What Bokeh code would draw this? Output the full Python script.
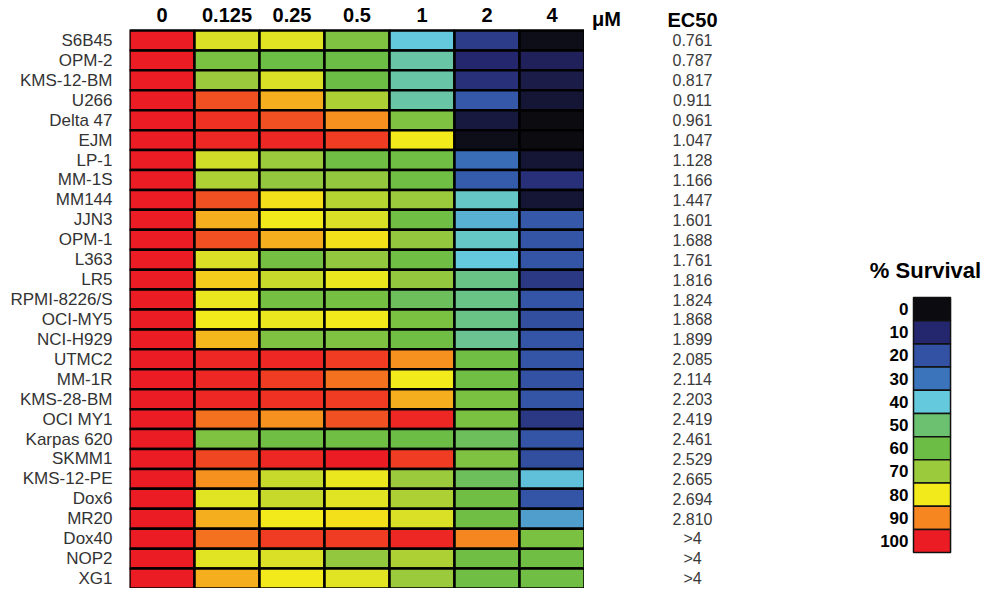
from bokeh.plotting import figure
from bokeh.models import Range1d, ColumnDataSource, LinearColorMapper, FixedTicker, FactorRange
from bokeh.layouts import row
from bokeh.embed import file_html
from bokeh.resources import INLINE
from bokeh.core.properties import value

# ---------------- data ----------------
doses = ["0", "0.125", "0.25", "0.5", "1", "2", "4"]
cell_lines = ["S6B45", "OPM-2", "KMS-12-BM", "U266", "Delta 47", "EJM", "LP-1", "MM-1S",
              "MM144", "JJN3", "OPM-1", "L363", "LR5", "RPMI-8226/S", "OCI-MY5", "NCI-H929",
              "UTMC2", "MM-1R", "KMS-28-BM", "OCI MY1", "Karpas 620", "SKMM1", "KMS-12-PE",
              "Dox6", "MR20", "Dox40", "NOP2", "XG1"]
ec50 = ["0.761", "0.787", "0.817", "0.911", "0.961", "1.047", "1.128", "1.166", "1.447",
        "1.601", "1.688", "1.761", "1.816", "1.824", "1.868", "1.899", "2.085", "2.114",
        "2.203", "2.419", "2.461", "2.529", "2.665", "2.694", "2.810", ">4", ">4", ">4"]

# % survival per dose (rows in cell_lines order)
surv_0 = [100] * 28
surv_0125 = [77, 63, 70, 95, 98, 99, 76, 72, 95, 86, 95, 77, 83, 79, 80, 85, 99, 99, 99, 92,
             64, 96, 89, 78, 86, 92, 78, 86]
surv_025 = [78, 60, 77, 86, 95, 99, 70, 68, 81, 80, 86, 62, 75, 62, 79, 64, 99, 97, 98, 89,
            61, 99, 75, 75, 80, 97, 77, 80]
surv_05 = [64, 60, 60, 72, 89, 97, 61, 68, 73, 77, 81, 68, 79, 62, 80, 64, 97, 92, 97, 95,
           61, 100, 79, 78, 81, 97, 68, 78]
surv_1 = [40, 45, 45, 45, 64, 80, 61, 61, 70, 61, 68, 61, 68, 55, 63, 61, 89, 80, 86, 99,
          60, 97, 70, 72, 77, 99, 72, 70]
surv_2 = [15, 10, 12, 22, 5, 1, 28, 23, 42, 37, 42, 40, 48, 48, 48, 47, 61, 61, 63, 63,
          55, 64, 55, 61, 61, 90, 61, 61]
surv_4 = [1, 8, 6, 4, 0, 0, 4, 12, 4, 22, 21, 21, 14, 21, 19, 21, 21, 20, 21, 14,
          21, 19, 39, 21, 35, 63, 61, 61]
survival_cols = [surv_0, surv_0125, surv_025, surv_05, surv_1, surv_2, surv_4]

legend_values = [0, 10, 20, 30, 40, 50, 60, 70, 80, 90, 100]
legend_colors = ["#0b0b10", "#25276e", "#3352a3", "#3b74bb", "#64c9dd", "#6cc170",
                 "#6cbd45", "#9bca3c", "#f3ea1b", "#f6861f", "#ec1c24"]

# ---------------- palette ----------------
def _hex(c):
    return tuple(int(c[i:i + 2], 16) for i in (1, 3, 5))

palette = []
for v in range(101):
    i = min(v // 10, 9)
    t = (v - legend_values[i]) / 10.0
    a, b = _hex(legend_colors[i]), _hex(legend_colors[i + 1])
    rgb = [round(a[k] + (b[k] - a[k]) * t) for k in range(3)]
    palette.append("#%02x%02x%02x" % tuple(rgb))
mapper = LinearColorMapper(palette=palette, low=-0.5, high=100.5)

FONT = value("Liberation Sans")
H = 588
n = len(cell_lines)
row_pos = list(range(n))[::-1]          # first cell line on top
HDR_Y = n + 0.3                          # header line above the rows

# ---------------- heatmap ----------------
xs, ys, vs = [], [], []
for d, col in zip(doses, survival_cols):
    for yp, v in zip(row_pos, col):
        xs.append(d); ys.append(yp); vs.append(v)
src = ColumnDataSource(dict(dose=xs, ypos=ys, surv=vs))

yr = Range1d(-0.5, n + 1.005)
xr = FactorRange(factors=doses)

A = figure(width=584, height=H, x_range=xr, y_range=yr, output_backend="svg",
           toolbar_location=None, x_axis_location=None, y_axis_location="left",
           min_border_left=129, min_border_right=0, min_border_top=0, min_border_bottom=0)
A.rect(x="dose", y="ypos", width=1, height=1, source=src,
       fill_color={"field": "surv", "transform": mapper},
       line_color="black", line_width=2.5)
A.text(x=doses, y=[HDR_Y] * len(doses), text=doses, text_font=FONT, text_font_style="bold",
       text_font_size="20px", text_align="center", text_baseline="middle",
       text_color="black")
A.yaxis.ticker = FixedTicker(ticks=row_pos)
A.yaxis.major_label_overrides = {yp: name for yp, name in zip(row_pos, cell_lines)}
A.yaxis.major_label_text_font = "Liberation Sans"
A.yaxis.major_label_text_font_size = "17px"
A.yaxis.major_label_text_color = "#333333"
A.yaxis.major_tick_line_color = None
A.yaxis.minor_tick_line_color = None
A.yaxis.axis_line_color = None
A.yaxis.major_label_standoff = 11
A.grid.visible = False
A.outline_line_color = None

# ---------------- EC50 column ----------------
B = figure(width=216, height=H, x_range=Range1d(0, 1), y_range=yr, output_backend="svg",
           toolbar_location=None, x_axis_location=None, y_axis_location=None,
           min_border_left=0, min_border_right=0, min_border_top=0, min_border_bottom=0)
B.text(x=[0.5] * n, y=row_pos, text=ec50, text_font=FONT,
       text_font_size="16px", text_align="center", text_baseline="middle",
       text_color="#3a3a3a")
B.text(x=[0.102], y=[HDR_Y - 0.2], text=["μM"], text_font=FONT, text_font_style="bold",
       text_font_size="20px", text_align="center", text_baseline="middle",
       text_color="black")
B.text(x=[0.5], y=[HDR_Y - 0.25], text=["EC50"], text_font=FONT, text_font_style="bold",
       text_font_size="20px", text_align="center", text_baseline="middle",
       text_color="black")
B.grid.visible = False
B.outline_line_color = None

# ---------------- legend ----------------
C = figure(width=192, height=H, x_range=Range1d(0, 1), y_range=Range1d(120.5, -133.1),
           output_backend="svg", toolbar_location=None, x_axis_location=None,
           y_axis_location=None, min_border_left=0, min_border_right=0,
           min_border_top=0, min_border_bottom=0)
C.rect(x=[0.685] * len(legend_values), y=legend_values, width=0.193, height=10,
       fill_color=legend_colors, line_color="#111111", line_width=1.5)
C.text(x=[0.5625] * len(legend_values), y=legend_values, text=[str(v) for v in legend_values],
       text_font=FONT, text_font_style="bold", text_font_size="17px", text_align="right",
       text_baseline="middle", text_color="black")
C.text(x=[0.651], y=[-16.6], text=["% Survival"], text_font=FONT, text_font_style="bold",
       text_font_size="22px", text_align="center", text_baseline="middle", text_color="black")
C.grid.visible = False
C.outline_line_color = None

layout = row(A, B, C)
open("out.html", "w").write(file_html(layout, INLINE))
